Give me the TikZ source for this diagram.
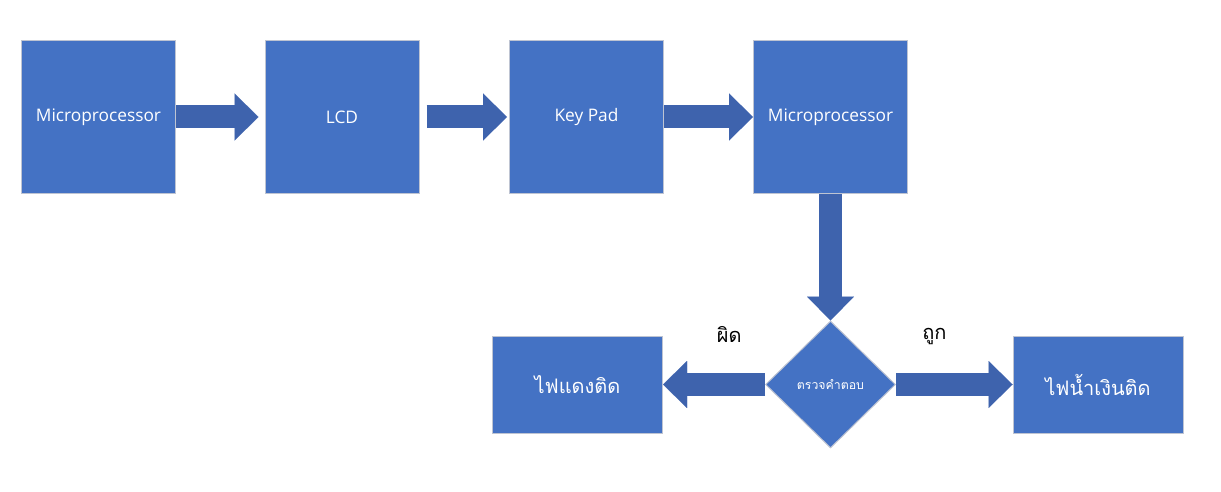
\documentclass[tikz,border=0pt]{standalone}
\usepackage{fontspec}
\setmainfont{Open Sans}
\newfontfamily\thaifont[Script=Thai]{Loma}
\usepackage{tikz}
\usetikzlibrary{arrows.meta,shapes.geometric}

\definecolor{boxblue}{RGB}{68,114,196}
\definecolor{boxline}{RGB}{190,196,210}
\definecolor{arrowblue}{RGB}{62,99,173}

\tikzset{
  block/.style={draw=boxline, line width=1pt, fill=boxblue, text=white,
    inner sep=0pt, minimum width=154pt, minimum height=153pt, font=\fontsize{17.3}{19}\selectfont},
  lamp/.style={block, minimum width=170pt, minimum height=97pt, font=\thaifont\fontsize{20}{22}\selectfont},
  check/.style={diamond, draw=boxline, line width=1pt, fill=boxblue, text=white,
    inner sep=0pt, minimum width=130pt, minimum height=127pt, font=\thaifont\fontsize{12.3}{14}\selectfont},
  flow/.style={draw=arrowblue, line width=23pt,
    -{Triangle[width=47pt, length=24pt, line width=0.01pt, fill=arrowblue]}},
  answer/.style={font=\thaifont\fontsize{20}{22}\selectfont, text=black}
}

\begin{document}
\begin{tikzpicture}[x=1pt, y=-1pt]
  \useasboundingbox (0,0) rectangle (1221,492);

  % Top row of blocks
  \node[block] (mcu1) at (98.5,117) {Microprocessor};
  \node[block] (lcd)  at (342,117)  {LCD};
  \node[block] (keys) at (586.5,117) {Key Pad};
  \node[block] (mcu2) at (830.5,117) {Microprocessor};

  % Check of the answer
  \node[check] (check) at (830.5,384.5) {ตรวจคำตอบ};

  % Lamps
  \node[lamp] (red)  at (577.5,384.5) {ไฟแดงติด};
  \node[lamp] (blue) at (1098,384.5)  {ไฟน้ำเงินติด};

  % Arrows along the top row
  \draw[flow, shorten >=6pt] (mcu1.east) -- (lcd.west);
  \draw[flow, shorten <=7pt, shorten >=2pt] (lcd.east) -- (keys.west);
  \draw[flow] (keys.east) -- (mcu2.west);

  % Down to the check, then out to the lamps
  \draw[flow] (mcu2.south) -- (check.north);
  \draw[flow] (check.west) -- (red.east)
    node[answer, pos=0.35, yshift=50pt] {ผิด};
  \draw[flow] (check.east) -- (blue.west)
    node[answer, pos=0.33, yshift=48pt] {ถูก};

\end{tikzpicture}
\end{document}
